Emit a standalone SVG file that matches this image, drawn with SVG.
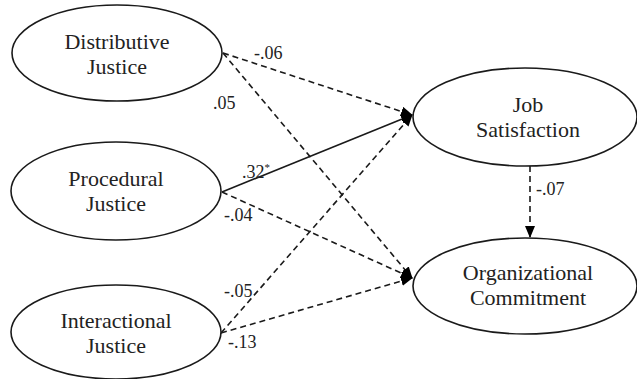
<svg xmlns="http://www.w3.org/2000/svg" width="637" height="379" viewBox="0 0 637 379">
<defs>
<marker id="ah" viewBox="0 0 12 10" refX="11" refY="5" markerWidth="12" markerHeight="10" markerUnits="userSpaceOnUse" orient="auto">
<path d="M0,0 L12,5 L0,10 z" fill="#000"/>
</marker>
</defs>
<rect width="637" height="379" fill="#fff"/>
<g id="connectors">
<g fill="none" stroke="#1a1a1a" stroke-width="1.6" marker-end="url(#ah)">
<line stroke-dasharray="6 4" x1="223" y1="53" x2="412" y2="115"/>
<line stroke-dasharray="6 4" x1="223" y1="53" x2="412" y2="278"/>
<line x1="222" y1="192" x2="412" y2="115"/>
<line stroke-dasharray="6 4" x1="222" y1="192" x2="412" y2="278"/>
<line stroke-dasharray="6 4" x1="221" y1="333" x2="412" y2="115"/>
<line stroke-dasharray="6 4" x1="221" y1="333" x2="412" y2="278"/>
<line stroke-dasharray="6 4" x1="530" y1="166" x2="530" y2="237"/>
</g>
<text font-family="Liberation Serif" font-size="18" fill="#222" x="254" y="59">-.06</text>
<text font-family="Liberation Serif" font-size="18" fill="#222" x="213" y="109">.05</text>
<text font-family="Liberation Serif" font-size="18" fill="#222" x="242" y="178">.32<tspan font-size="11" dy="-7">*</tspan></text>
<text font-family="Liberation Serif" font-size="18" fill="#222" x="224" y="221">-.04</text>
<text font-family="Liberation Serif" font-size="18" fill="#222" x="224" y="297">-.05</text>
<text font-family="Liberation Serif" font-size="18" fill="#222" x="228" y="348">-.13</text>
<text font-family="Liberation Serif" font-size="18" fill="#222" x="536" y="195">-.07</text>
</g>
<g id="distributive"><ellipse cx="117" cy="53" rx="105" ry="48" fill="#fff" stroke="#1a1a1a" stroke-width="1.6"/><text font-family="Liberation Serif" font-size="22" fill="#222" text-anchor="middle" x="117" y="49">Distributive</text><text font-family="Liberation Serif" font-size="22" fill="#222" text-anchor="middle" x="117" y="74">Justice</text></g>
<g id="procedural"><ellipse cx="116" cy="191" rx="105" ry="49" fill="#fff" stroke="#1a1a1a" stroke-width="1.6"/><text font-family="Liberation Serif" font-size="22" fill="#222" text-anchor="middle" x="116" y="186">Procedural</text><text font-family="Liberation Serif" font-size="22" fill="#222" text-anchor="middle" x="116" y="211">Justice</text></g>
<g id="interactional"><ellipse cx="116" cy="332" rx="105" ry="47" fill="#fff" stroke="#1a1a1a" stroke-width="1.6"/><text font-family="Liberation Serif" font-size="22" fill="#222" text-anchor="middle" x="116" y="328">Interactional</text><text font-family="Liberation Serif" font-size="22" fill="#222" text-anchor="middle" x="116" y="353">Justice</text></g>
<g id="jobsat"><ellipse cx="525" cy="117" rx="112" ry="49" fill="#fff" stroke="#1a1a1a" stroke-width="1.6"/><text font-family="Liberation Serif" font-size="22" fill="#222" text-anchor="middle" x="528" y="112">Job</text><text font-family="Liberation Serif" font-size="22" fill="#222" text-anchor="middle" x="528" y="137">Satisfaction</text></g>
<g id="orgcom"><ellipse cx="525" cy="286" rx="112" ry="48" fill="#fff" stroke="#1a1a1a" stroke-width="1.6"/><text font-family="Liberation Serif" font-size="22" fill="#222" text-anchor="middle" x="528" y="280">Organizational</text><text font-family="Liberation Serif" font-size="22" fill="#222" text-anchor="middle" x="528" y="305">Commitment</text></g>
</svg>
